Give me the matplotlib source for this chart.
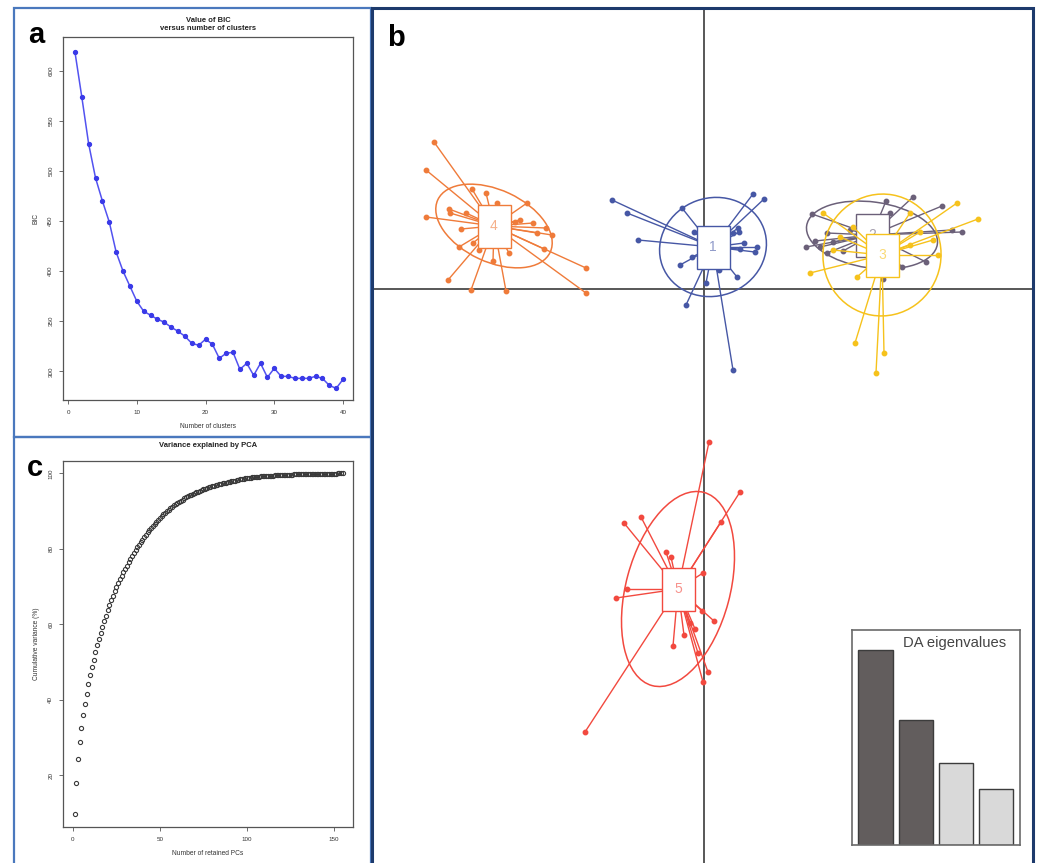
import numpy as np
import matplotlib
matplotlib.use("Agg")
import matplotlib.pyplot as plt
from matplotlib.patches import Ellipse, Rectangle

plt.rcParams['font.family'] = ['Liberation Sans', 'DejaVu Sans']

# ---- panel a: BIC vs number of clusters
bic_k = list(range(1, 41))
bic_values = [619, 574, 527, 493, 470, 449, 419, 400, 385, 370,
              360, 356, 352, 349, 344, 340, 335, 328, 326, 332,
              327, 313, 318, 319, 302, 308, 296, 308, 294, 303,
              295, 295, 293, 293, 293, 295, 293, 286, 283, 292]

# ---- panel c: cumulative variance explained by PCA
pca_cum = [9.9, 18.1, 24.3, 28.8, 32.7, 36.0, 39.0, 41.7, 44.2, 46.6,
           48.7, 50.7, 52.6, 54.6, 56.2, 57.8, 59.4, 60.8, 62.3, 63.8,
           65.1, 66.4, 67.6, 68.8, 69.9, 71.0, 72.0, 72.9, 73.8, 74.7,
           75.6, 76.5, 77.3, 78.1, 78.9, 79.7, 80.4, 81.1, 81.8, 82.5,
           83.2, 83.8, 84.4, 85.0, 85.6, 86.2, 86.7, 87.2, 87.7, 88.2,
           88.7, 89.2, 89.6, 90.0, 90.4, 90.8, 91.2, 91.6, 91.9, 92.2,
           92.5, 92.8, 93.1, 93.4, 93.7, 93.9, 94.2, 94.4, 94.6, 94.8,
           95.0, 95.2, 95.4, 95.6, 95.8, 96.0, 96.2, 96.3, 96.5, 96.6,
           96.8, 96.9, 97.0, 97.2, 97.3, 97.4, 97.5, 97.6, 97.7, 97.8,
           97.9, 98.0, 98.1, 98.2, 98.3, 98.4, 98.5, 98.6, 98.7, 98.8,
           98.85, 98.9, 98.95, 99.0, 99.05, 99.1, 99.15, 99.2, 99.25, 99.3,
           99.33, 99.36, 99.39, 99.42, 99.45, 99.48, 99.51, 99.54, 99.57, 99.6,
           99.62, 99.64, 99.66, 99.68, 99.7, 99.72, 99.74, 99.76, 99.78, 99.8,
           99.81, 99.82, 99.83, 99.84, 99.85, 99.86, 99.87, 99.88, 99.89, 99.9,
           99.91, 99.92, 99.93, 99.94, 99.95, 99.96, 99.96, 99.97, 99.97, 99.98,
           99.98, 99.99, 99.99, 100.0, 100.0]
pca_n = list(range(1, len(pca_cum) + 1))

# ---- panel b: DAPC scatter (LD1, LD2) per cluster
clusters = ['1', '2', '3', '4', '5']
cluster_colors = ['#4657a5', '#6b6079', '#f6c21c', '#ef7b3a', '#f2493f']

ld1_c1 = [0.98, 1.20, -1.84, -1.54, -1.32, -0.44, -0.20, -0.48, -0.24, -0.36, 0.04,
          0.30, 0.58, 0.66, 0.68, 0.70, 0.80, 1.06, 1.02, 0.72, 0.58]
ld2_c1 = [1.90, 1.80, 1.78, 1.52, 0.98, 1.62, 1.14, 0.48, 0.64, -0.32, 0.12,
          0.38, -1.62, 0.24, 1.22, 1.14, 0.92, 0.84, 0.74, 0.80, 1.12]

ld1_c2 = [2.16, 2.22, 2.04, 2.46, 2.46, 2.78, 3.64, 3.72, 4.18, 4.76,
          5.16, 4.96, 4.44, 3.96, 3.58, 3.18, 2.92, 2.58, 2.32]
ld2_c2 = [1.50, 0.96, 0.84, 0.72, 1.12, 0.76, 1.76, 1.52, 1.84, 1.66,
          1.14, 1.18, 0.54, 0.44, 0.20, 0.98, 1.18, 0.94, 0.84]

ld1_c3 = [5.06, 5.48, 2.12, 3.06, 3.02, 3.44, 3.60, 4.68, 4.12, 2.38,
          2.58, 4.12, 2.98, 4.58, 2.72, 4.32]
ld2_c3 = [1.72, 1.40, 0.32, 0.24, -1.08, -1.68, -1.28, 0.68, 0.88, 1.52,
          0.78, 1.52, 1.24, 0.98, 1.04, 1.14]

ld1_c4 = [-5.40, -5.56, -5.56, -5.12, -4.66, -3.96, -2.36, -2.36, -4.64, -4.36,
          -4.14, -5.10, -5.08, -4.86, -4.90, -4.62, -4.50, -4.22, -3.90, -3.54,
          -3.78, -3.42, -3.16, -3.04, -3.20, -3.34, -3.68, -4.76]
ld2_c4 = [2.94, 2.38, 1.44, 0.18, -0.02, -0.04, 0.42, -0.08, 2.00, 1.92,
          1.72, 1.60, 1.52, 1.20, 0.84, 0.92, 0.78, 0.56, 0.72, 1.72,
          1.34, 1.32, 1.22, 1.08, 0.80, 1.12, 1.38, 1.52]

ld1_c5 = [0.10, 0.72, 0.34, -1.60, -1.26, -0.76, -0.66, -1.54, -1.76, -0.02,
          -0.04, 0.20, -0.18, -0.40, -0.62, 0.08, -0.02, -2.38, -0.28, -0.12]
ld2_c5 = [-3.06, -4.06, -4.66, -4.68, -4.56, -5.26, -5.36, -6.00, -6.18, -5.68,
          -6.44, -6.64, -6.80, -6.92, -7.14, -7.66, -7.86, -8.86, -6.68, -7.28]

ld1_all = [ld1_c1, ld1_c2, ld1_c3, ld1_c4, ld1_c5]
ld2_all = [ld2_c1, ld2_c2, ld2_c3, ld2_c4, ld2_c5]

# group centroids and inertia ellipses (half axes, angle in degrees)
centroid_ld1 = [0.18, 3.36, 3.56, -4.20, -0.52]
centroid_ld2 = [0.84, 1.08, 0.68, 1.26, -6.00]
ell_a = [1.08, 1.32, 1.22, 1.24, 2.00]
ell_b = [0.98, 0.66, 1.18, 0.72, 1.04]
ell_angle = [20, -8, 80, -25, 75]

# DA eigenvalues inset
da_eig = [3.9, 2.5, 1.64, 1.12]
da_colors = ['#625d5d', '#625d5d', '#d9d9d9', '#d9d9d9']

W, H = 1041, 863
fig = plt.figure(figsize=(W / 100, H / 100), dpi=100)


def fbox(x0, y0, x1, y1):
    # pixel box -> figure fraction [left, bottom, width, height]
    return [x0 / W, 1 - y1 / H, (x1 - x0) / W, (y1 - y0) / H]


def frame(x0, y0, x1, y1, col, lw):
    l, b, w, h = fbox(x0, y0, x1, y1)
    fig.add_artist(Rectangle((l, b), w, h, transform=fig.transFigure,
                             fill=False, ec=col, lw=lw))


def r_style(ax):
    for s in ax.spines.values():
        s.set_color('#555555')
        s.set_linewidth(0.9)
    ax.tick_params(direction='out', length=3, width=0.6, colors='#555555',
                   labelsize=4.5, labelcolor='#333333', pad=4)
    for lab in ax.get_yticklabels():
        lab.set_rotation(90)
        lab.set_va('center')


# ---- panel a
ax_a = fig.add_axes(fbox(63, 37, 353, 400))
ax_a.plot(bic_k, bic_values, color='#5252f0', lw=1.1, marker='o', ms=2.8,
          mec='#3a3ae8', mfc='#3a3ae8')
ax_a.set_xlim(-0.73, 41.45)
ax_a.set_ylim(271.4, 633.6)
ax_a.set_xticks([0, 10, 20, 30, 40])
ax_a.set_yticks([300, 350, 400, 450, 500, 550, 600])
r_style(ax_a)
ax_a.set_title('Value of BIC\nversus number of clusters', fontsize=5.5,
               fontweight='bold', pad=5, color='#222222', linespacing=1.3)
ax_a.set_xlabel('Number of clusters', fontsize=4.8, color='#333333', labelpad=6)
ax_a.set_ylabel('BIC', fontsize=4.8, color='#333333', labelpad=6)

# ---- panel c
ax_c = fig.add_axes(fbox(63, 461, 353, 827))
ax_c.plot(pca_n, pca_cum, ls='none', marker='o', ms=3.0, mfc='none',
          mec='#3a3a3a', mew=0.8)
ax_c.set_xlim(-5.6, 160.8)
ax_c.set_ylim(6.35, 103.3)
ax_c.set_xticks([0, 50, 100, 150])
ax_c.set_yticks([20, 40, 60, 80, 100])
r_style(ax_c)
ax_c.set_title('Variance explained by PCA', fontsize=5.5, fontweight='bold',
               pad=10, color='#222222')
ax_c.set_xlabel('Number of retained PCs', fontsize=4.8, color='#333333', labelpad=6)
ax_c.set_ylabel('Cumulative variance (%)', fontsize=4.8, color='#333333', labelpad=6)

# ---- panel b
ax_b = fig.add_axes(fbox(373, 8, 1033, 863))
ax_b.set_xlim(-6.62, 6.58)
ax_b.set_ylim(-11.48, 5.62)
ax_b.axis('off')
ax_b.axhline(0, color='#4a4a4a', lw=1.3, zorder=1)
ax_b.axvline(0, color='#4a4a4a', lw=1.3, zorder=1)

box_w, box_h = 0.66, 0.86
for i, name in enumerate(clusters):
    col = cluster_colors[i]
    cx, cy = centroid_ld1[i], centroid_ld2[i]
    z = 2 + i
    for x, y in zip(ld1_all[i], ld2_all[i]):
        ax_b.plot([cx, x], [cy, y], color=col, lw=1.0, zorder=z)
    ax_b.plot(ld1_all[i], ld2_all[i], ls='none', marker='o', ms=3.2,
              color=col, zorder=z)
    ax_b.add_patch(Ellipse((cx, cy), 2 * ell_a[i], 2 * ell_b[i], angle=ell_angle[i],
                           fill=False, ec=col, lw=1.1, zorder=z))
    ax_b.add_patch(Rectangle((cx - box_w / 2, cy - box_h / 2), box_w, box_h,
                             fc='white', ec=col, lw=1.0, zorder=z + 0.5))
    ax_b.text(cx, cy, name, ha='center', va='center', fontsize=10,
              color=col, alpha=0.6, zorder=z + 0.6)

# DA eigenvalues inset
ax_e = fig.add_axes(fbox(852, 630, 1020, 845))
ax_e.bar(range(len(da_eig)), da_eig, width=0.85, color=da_colors,
         edgecolor='#3c3c3c', lw=1.0)
ax_e.set_xlim(-0.585, 3.59)
ax_e.set_ylim(0, da_eig[0] * 215 / 195)
ax_e.set_xticks([])
ax_e.set_yticks([])
for s in ax_e.spines.values():
    s.set_color('#6a6a6a')
    s.set_linewidth(1.2)
ax_e.text(0.915, 0.94, 'DA eigenvalues', transform=ax_e.transAxes, ha='right',
          va='center', fontsize=10.6, color='#444444')

# panel frames and letters
frame(14, 8, 371, 437, '#4a78bd', 1.6)
frame(14, 437, 371, 875, '#4a78bd', 1.6)
frame(372, 8, 1033, 875, '#1d3a6c', 2.2)

fig.text(28 / W, 1 - 35 / H, 'a', fontsize=21, fontweight='bold', va='center')
fig.text(387 / W, 1 - 38 / H, 'b', fontsize=21, fontweight='bold', va='center')
fig.text(27 / W, 1 - 468 / H, 'c', fontsize=21, fontweight='bold', va='center')

fig.savefig('out.png', dpi=100)
